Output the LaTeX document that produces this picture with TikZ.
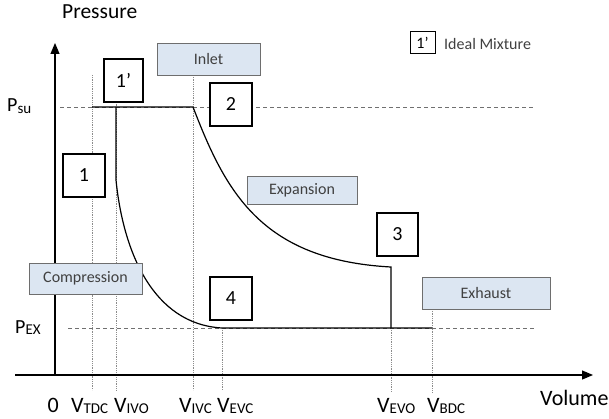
\documentclass[tikz,border=0pt]{standalone}
\usepackage{fontspec}
\setmainfont{Carlito}
\usetikzlibrary{arrows.meta}
\definecolor{boxblue}{HTML}{DCE6F2}
\definecolor{boxedge}{HTML}{6E6E6E}
\definecolor{textgray}{HTML}{404040}
\definecolor{guidegray}{HTML}{8C8C8C}
\definecolor{levelgray}{HTML}{707070}
\newcommand{\vsub}[2]{#1\raisebox{-0.15ex}{\fontsize{15}{15}\selectfont #2}}
\begin{document}
\begin{tikzpicture}[x=1pt,y=-1pt,
  numbox/.style={draw=black, line width=1.1pt, fill=white, minimum width=42pt, minimum height=43pt, font=\fontsize{20}{24}\selectfont, inner sep=0pt},
  phasebox/.style={draw=boxedge, line width=0.8pt, fill=boxblue, font=\fontsize{16}{19}\selectfont, text=textgray, inner sep=0pt},
  guide/.style={guidegray, line width=0.6pt, dash pattern=on 0.8pt off 1pt},
  level/.style={levelgray, line width=0.9pt, dash pattern=on 4pt off 3pt},
  cyc/.style={black, line width=1.2pt},
  axisline/.style={black, line width=1.2pt, -{Triangle[length=11pt,width=9pt]}},
  lab/.style={font=\fontsize{22}{24}\selectfont, anchor=base west, inner sep=0pt},
  plab/.style={font=\fontsize{20}{24}\selectfont, anchor=base west, inner sep=0pt},
]
\useasboundingbox (0,0) rectangle (609,419);

% named points
\coordinate (origin) at (55,375);
\coordinate (ytip) at (55,43);
\coordinate (xstart) at (15,375);
\coordinate (xtip) at (593,375);
\coordinate (ptdc) at (92,107);
\coordinate (p1p) at (116,107);
\coordinate (p1) at (116,180);
\coordinate (p2) at (193,107);
\coordinate (p3) at (391,267);
\coordinate (p4) at (222,328);
\coordinate (pevo) at (391,328);
\coordinate (pbdc) at (432,328);
\coordinate (psuL) at (60,107);
\coordinate (psuR) at (535,107);
\coordinate (pexL) at (68,328);
\coordinate (pexR) at (535,328);

% dashed pressure levels
\draw[level] (psuL) -- (psuR);
\draw[level] (pexL) -- (pexR);

% guide lines
\coordinate (tdct) at (92,75);
\coordinate (ivot) at (116,100);
\coordinate (ivct) at (193,75);
\coordinate (bdct) at (432,309);
\coordinate (tdcb) at (92,390);
\coordinate (ivob) at (116,390);
\coordinate (ivcb) at (193,390);
\coordinate (evcb) at (222,390);
\coordinate (evob) at (391,392);
\coordinate (bdcb) at (432,392);
\draw[guide] (tdct) -- (tdcb);
\draw[guide] (ivot) -- (ivob);
\draw[guide] (ivct) -- (ivcb);
\draw[guide] (p4) -- (evcb);
\draw[guide] (pevo) -- (evob);
\draw[guide] (bdct) -- (bdcb);

% axes
\draw[axisline] (origin) -- (ytip);
\draw[axisline] (xstart) -- (xtip);

% cycle
\draw[cyc] (ptdc) -- (p2) .. controls (225,190) and (260,260) .. (p3) -- (pevo);
\draw[cyc] (p1p) -- (p1) .. controls (123,250) and (152,324) .. (p4) -- (pbdc);

% boxes (phase labels)
\node[phasebox, minimum width=103pt, minimum height=32pt] (inlet) at (208.5,59) {Inlet};
\node[phasebox, minimum width=110pt, minimum height=28pt] (expansion) at (302,190) {Expansion};
\node[phasebox, minimum width=113pt, minimum height=31pt] (compression) at (85.5,278.5) {Compression};
\node[phasebox, minimum width=128pt, minimum height=32pt] (exhaust) at (486,293) {Exhaust};

% number boxes
\node[numbox, minimum width=39pt] (n1p) at (123.5,80.5) {1’};
\node[numbox] (n2) at (231,104.5) {2};
\node[numbox] (n1) at (84,175.5) {1};
\node[numbox] (n4) at (231,298.5) {4};
\node[numbox, minimum width=41pt] (n3) at (397.5,234.5) {3};

% legend
\node[draw=black, line width=1pt, fill=white, minimum width=25pt, minimum height=22pt, inner sep=0pt, font=\fontsize{16}{18}\selectfont] (legbox) at (422.5,43) {1’};
\node[anchor=west, inner sep=0pt, font=\fontsize{16}{18}\selectfont, text=textgray] (legtext) at (444,44) {Ideal Mixture};

% axis titles
\node[font=\fontsize{21.5}{24}\selectfont, anchor=base west, inner sep=0pt] (ptitle) at (62,18.5) {Pressure};
\node[lab] (vtitle) at (540,405) {Volume};

% pressure labels
\node[plab] (psu) at (7,112) {\vsub{P}{su}};
\node[plab] (pex) at (15,333) {\vsub{P}{EX}};

% volume labels
\node[lab] (zero) at (47.5,412) {0};
\node[lab] (vtdc) at (71,412) {\vsub{V}{TDC}};
\node[lab] (vivo) at (114,412) {\vsub{V}{IVO}};
\node[lab] (vivc) at (179,412) {\vsub{V}{IVC}};
\node[lab] (vevc) at (217,412) {\vsub{V}{EVC}};
\node[lab] (vevo) at (377,412) {\vsub{V}{EVO}};
\node[lab] (vbdc) at (427,412) {\vsub{V}{BDC}};
\end{tikzpicture}
\end{document}
